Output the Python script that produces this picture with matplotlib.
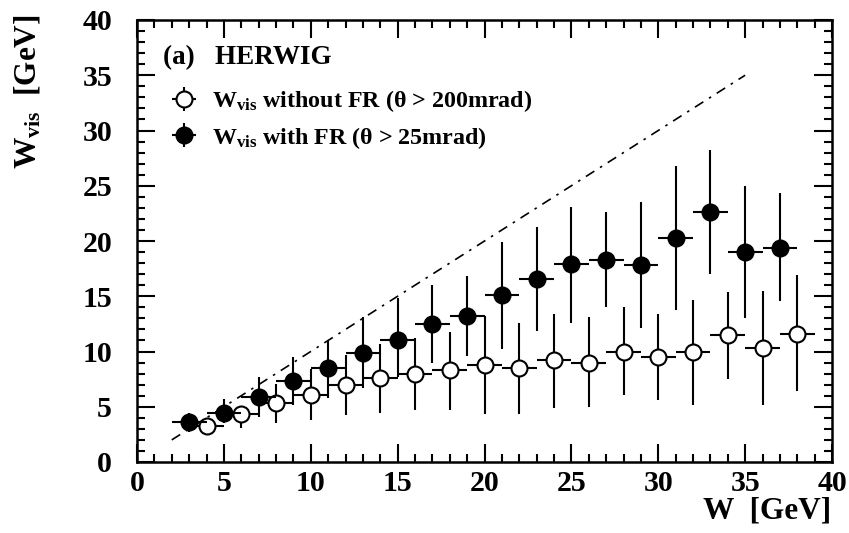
import matplotlib
matplotlib.use("Agg")
import matplotlib.pyplot as plt
from matplotlib.ticker import MultipleLocator

plt.rcParams['font.family'] = ['Liberation Serif', 'DejaVu Serif']
plt.rcParams['font.weight'] = 'bold'
plt.rcParams['mathtext.fontset'] = 'custom'
plt.rcParams['mathtext.rm'] = 'Liberation Serif:bold'
plt.rcParams['mathtext.bf'] = 'Liberation Serif:bold'
plt.rcParams['mathtext.it'] = 'Liberation Serif:bold'

# With forward region (theta > 25 mrad), odd W bins
w_fr = [3, 5, 7, 9, 11, 13, 15, 17, 19, 21, 23, 25, 27, 29, 31, 33, 35, 37]
wvis_fr = [3.6, 4.4, 5.9, 7.3, 8.5, 9.9, 11.0, 12.5, 13.2, 15.1, 16.6, 17.9,
           18.3, 17.8, 20.3, 22.6, 19.0, 19.4]
fr_hi = [4.4, 5.7, 7.7, 9.5, 11.0, 13.1, 14.8, 16.0, 16.8, 19.9, 21.3, 23.1,
         22.6, 23.5, 26.8, 28.2, 25.0, 24.3]
fr_lo = [2.7, 3.5, 4.1, 5.2, 5.8, 6.7, 7.7, 9.0, 9.6, 10.2, 11.9, 12.6,
         14.0, 12.1, 13.8, 17.0, 13.0, 14.6]

# Without forward region (theta > 200 mrad), even W bins
w_nofr = [4, 6, 8, 10, 12, 14, 16, 18, 20, 22, 24, 26, 28, 30, 32, 34, 36, 38]
wvis_nofr = [3.3, 4.3, 5.3, 6.1, 7.0, 7.6, 8.0, 8.3, 8.8, 8.5, 9.2, 9.0,
             10.0, 9.5, 10.0, 11.5, 10.3, 11.6]
nofr_hi = [3.95, 5.1, 7.1, 8.4, 9.7, 10.7, 11.2, 11.8, 13.2, 12.6, 13.4, 13.1,
           14.0, 13.4, 14.7, 15.4, 15.5, 16.9]
nofr_lo = [2.6, 3.05, 3.5, 3.8, 4.25, 4.4, 4.7, 4.7, 4.3, 4.3, 4.9, 5.0,
           6.1, 5.6, 5.2, 7.5, 5.2, 6.4]

bin_half_width = 1.0
diag_x = [2, 35]

fig = plt.figure(figsize=(8.49, 5.33), dpi=100)
ax = fig.add_axes([137/849, 1-462/533, 695/849, 442/533])

def yerr(v, lo, hi):
    return [[a - b for a, b in zip(v, lo)], [c - a for a, c in zip(v, hi)]]

eb_open = ax.errorbar(w_nofr, wvis_nofr, yerr=yerr(wvis_nofr, nofr_lo, nofr_hi),
                      xerr=bin_half_width, fmt='o', ms=11.5, mfc='white', mec='black',
                      mew=1.5, ecolor='black', elinewidth=1.5, capsize=0, color='black',
                      zorder=3)
eb_fill = ax.errorbar(w_fr, wvis_fr, yerr=yerr(wvis_fr, fr_lo, fr_hi),
                      xerr=bin_half_width, fmt='o', ms=11.5, mfc='black', mec='black',
                      mew=1.5, ecolor='black', elinewidth=1.5, capsize=0, color='black',
                      zorder=4)

ax.plot(diag_x, diag_x, color='black', lw=1.2, dashes=(6, 4, 1.5, 4), zorder=2)

ax.set_xlim(0, 40)
ax.set_ylim(0, 40)
ax.xaxis.set_major_locator(MultipleLocator(5))
ax.xaxis.set_minor_locator(MultipleLocator(1))
ax.yaxis.set_major_locator(MultipleLocator(5))
ax.yaxis.set_minor_locator(MultipleLocator(1))
ax.tick_params(which='both', direction='in', top=True, right=True, width=1.5)
ax.tick_params(which='major', length=13)
ax.tick_params(which='minor', length=6)
ax.tick_params(axis='x', which='major', labelsize=21.5, pad=6)
ax.tick_params(axis='y', which='major', labelsize=21.5, pad=18)
for lab in ax.get_xticklabels() + ax.get_yticklabels():
    lab.set_fontweight('bold')
for s in ax.spines.values():
    s.set_linewidth(1.8)

fig.text(831/849, 1-511/533, 'W  [GeV]', ha='right', va='center', fontsize=22.5,
         fontweight='bold')
fig.text(28/849, 1-14/533, r'W$_{\mathbf{vis}}$  [GeV]', ha='center', va='top',
         rotation=90, fontsize=22.5, fontweight='bold')

ax.text((163-137)/695, 1-(58-20)/442, '(a)   HERWIG', transform=ax.transAxes,
        fontsize=19.5, fontweight='bold', va='center', ha='left')

leg = ax.legend([eb_open, eb_fill],
                [r'W$_{\mathbf{vis}}$ without FR (θ > 200mrad)',
                 r'W$_{\mathbf{vis}}$ with FR (θ > 25mrad)'],
                loc='upper left', bbox_to_anchor=((171-137)/695, 1-(88-20)/442),
                frameon=False, handlelength=1.1, handletextpad=0.6,
                labelspacing=0.45, borderaxespad=0, borderpad=0,
                prop={'weight': 'bold', 'size': 17.3})

fig.savefig('out.png', dpi=100)
